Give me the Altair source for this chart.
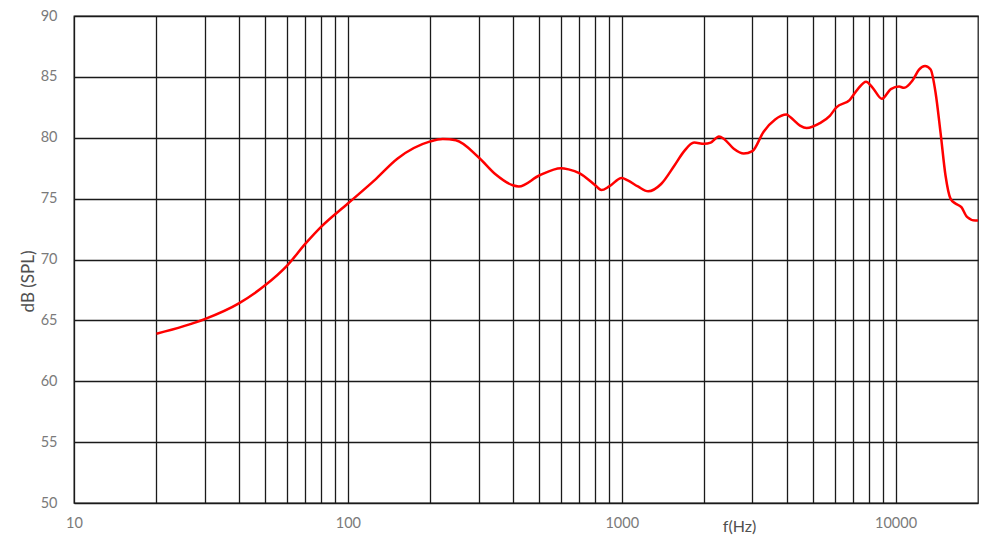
import altair as alt
import pandas as pd

freq = [20, 30, 40, 50, 60, 70, 80, 100, 125, 152, 200, 222, 248, 300, 346, 400, 421, 500,
        600, 640, 700, 800, 843, 900, 1000, 1052, 1146, 1250, 1393, 1556, 1691, 1838, 2000,
        2113, 2265, 2364, 2566, 2790, 3000, 3298, 3634, 4000, 4123, 4478, 4733, 5290, 5754,
        6080, 6796, 7280, 7800, 8252, 8915, 9612, 10305, 10740, 11530, 12180, 12810, 13430,
        14000, 14600, 15220, 15870, 16540, 17390, 18230, 19550, 20000]
spl = [63.9, 65.1, 66.4, 67.9, 69.5, 71.3, 72.7, 74.6, 76.5, 78.3, 79.7, 79.9, 79.8, 78.4,
       77.0, 76.1, 76.0, 76.9, 77.5, 77.4, 77.1, 76.1, 75.7, 76.0, 76.7, 76.5, 76.0, 75.6,
       76.2, 77.7, 78.9, 79.6, 79.5, 79.6, 80.1, 79.9, 79.1, 78.7, 78.9, 80.5, 81.5, 81.9,
       81.7, 81.0, 80.8, 81.2, 81.8, 82.5, 83.1, 84.0, 84.6, 84.1, 83.2, 84.0, 84.2, 84.1,
       84.7, 85.6, 85.9, 85.6, 83.7, 80.4, 76.9, 75.0, 74.6, 74.3, 73.5, 73.2, 73.2]

x_grid = [10, 20, 30, 40, 50, 60, 70, 80, 90, 100, 200, 300, 400, 500, 600, 700, 800, 900,
          1000, 2000, 3000, 4000, 5000, 6000, 7000, 8000, 9000, 10000]
x_labels = [10, 100, 1000, 10000]
y_ticks = [50, 55, 60, 65, 70, 75, 80, 85, 90]

df = pd.DataFrame({"f": freq, "db": spl})

label_expr = "indexof([" + ",".join(str(v) for v in x_labels) + "], datum.value) >= 0 ? format(datum.value, 'd') : ''"

font = "Lato"

chart = alt.Chart(df).mark_line(
    color="#ff0000", strokeWidth=2.5, interpolate="monotone"
).encode(
    x=alt.X("f:Q",
            scale=alt.Scale(type="log", domain=[10, 20000], nice=False),
            axis=alt.Axis(values=x_grid, labelExpr=label_expr, title="f(Hz)",
                          grid=True, gridColor="#1a1a1a", gridWidth=1.3, gridOpacity=1,
                          ticks=False, tickSize=0, domain=False,
                          labelOverlap=False, labelFlush=False, labelBound=False,
                          labelPadding=13, labelColor="#7a7a7a", labelFontSize=14.5,
                          labelFont=font,
                          titleFont=font, titleFontSize=16, titleFontWeight="normal",
                          titleColor="#505050", titleX=665, titleY=15,
                          titleBaseline="top", titleAlign="center")),
    y=alt.Y("db:Q",
            scale=alt.Scale(domain=[50, 90], nice=False, zero=False),
            axis=alt.Axis(values=y_ticks, title="dB (SPL)",
                          grid=True, gridColor="#1a1a1a", gridWidth=1.3, gridOpacity=1,
                          ticks=False, tickSize=0, domain=False,
                          labelOverlap=False, labelFlush=False,
                          labelPadding=17, labelColor="#7a7a7a", labelFontSize=14.5,
                          labelFont=font,
                          titleFont=font, titleFontSize=17, titleFontWeight="normal",
                          titleColor="#505050", titleX=-37, titleY=265,
                          titleAlign="center", titleAngle=270, titleBaseline="bottom"))
).properties(
    width=904, height=487,
    autosize="none",
    padding={"left": 66, "top": 8, "right": 1, "bottom": 36}
).configure_view(
    stroke="#222222", strokeWidth=1.3
)

chart.save("out.html", embed_options={"renderer": "svg", "actions": False})
